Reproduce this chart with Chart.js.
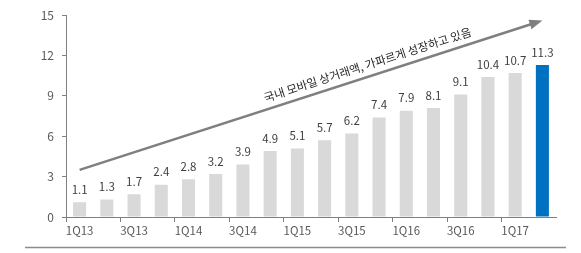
<!DOCTYPE html>
<html>
<head>
<meta charset="utf-8">
<script src="https://cdn.jsdelivr.net/npm/chart.js@4"></script>
<style>
  html, body { margin: 0; padding: 0; background: #fff; }
  #wrap { width: 581px; height: 253px; }
</style>
</head>
<body>
<div id="wrap"><canvas id="barChart"></canvas></div>
<script>
const quarters = ['1Q13','2Q13','3Q13','4Q13','1Q14','2Q14','3Q14','4Q14','1Q15','2Q15','3Q15','4Q15','1Q16','2Q16','3Q16','4Q16','1Q17','2Q17']
const values = [1.1, 1.3, 1.7, 2.4, 2.8, 3.2, 3.9, 4.9, 5.1, 5.7, 6.2, 7.4, 7.9, 8.1, 9.1, 10.4, 10.7, 11.3]
const yTicks = [0, 3, 6, 9, 12, 15]
// trend arrow, in data units: [category index, value]
const arrowFrom = [0, 3.5]
const arrowTo = [17, 14.6]
const arrowText = '국내 모바일 상거래액, 가파르게 성장하고 있음'

const grey = '#d9d9d9'
const blue = '#0070c0'
const font = "'Noto Sans CJK KR', 'Noto Sans', sans-serif"

// value labels + arrow + bottom rule
const extras = {
  id: 'extras',
  afterDatasetsDraw(chart) {
    const c = chart.ctx
    const meta = chart.getDatasetMeta(0)
    c.save()
    c.font = '11.5px ' + font
    c.fillStyle = '#404040'
    c.textAlign = 'center'
    c.textBaseline = 'bottom'
    meta.data.forEach((bar, i) => {
      c.fillText(values[i].toFixed(1), bar.x, bar.y - 7)
    })

    const x = chart.scales.x, y = chart.scales.y
    const x0 = x.getPixelForValue(arrowFrom[0]), y0 = y.getPixelForValue(arrowFrom[1])
    const x1 = x.getPixelForValue(arrowTo[0]), y1 = y.getPixelForValue(arrowTo[1])
    const ang = Math.atan2(y1 - y0, x1 - x0)
    const head = 13
    c.strokeStyle = '#7f7f7f'
    c.fillStyle = '#7f7f7f'
    c.lineWidth = 2.5
    c.beginPath()
    c.moveTo(x0, y0)
    c.lineTo(x1 - Math.cos(ang) * head * 0.8, y1 - Math.sin(ang) * head * 0.8)
    c.stroke()
    c.beginPath()
    c.moveTo(x1, y1)
    c.lineTo(x1 - head * Math.cos(ang) + 5 * Math.sin(ang), y1 - head * Math.sin(ang) - 5 * Math.cos(ang))
    c.lineTo(x1 - head * Math.cos(ang) - 5 * Math.sin(ang), y1 - head * Math.sin(ang) + 5 * Math.cos(ang))
    c.closePath()
    c.fill()

    // caption along the arrow
    const mx = x0 + (x1 - x0) * 0.63, my = y0 + (y1 - y0) * 0.63
    c.translate(mx, my)
    c.rotate(ang)
    c.font = '11.5px ' + font
    c.fillStyle = '#262626'
    c.textAlign = 'center'
    c.textBaseline = 'bottom'
    c.fillText(arrowText, 0, -6)
    c.restore()

    // rule under the chart
    c.save()
    c.strokeStyle = '#8c8c8c'
    c.lineWidth = 1.5
    c.beginPath()
    c.moveTo(25, 247.5)
    c.lineTo(566, 247.5)
    c.stroke()
    c.restore()
  }
}

const ctx = document.getElementById('barChart').getContext('2d')

const config = {
  type: 'bar',
  data: {
    labels: quarters,
    datasets: [{
      data: values,
      backgroundColor: values.map((v, i) => i === values.length - 1 ? blue : grey),
      barPercentage: 0.48,
      categoryPercentage: 1,
    }],
  },
  options: {
    responsive: true,
    maintainAspectRatio: false,
    animation: false,
    layout: { padding: { left: 0, right: 25, top: 12, bottom: 0 } },
    plugins: { legend: { display: false }, tooltip: { enabled: false } },
    scales: {
      x: {
        afterFit: s => { s.height = 36 },
        grid: {
          drawOnChartArea: false,
          tickLength: 5,
          color: c => c.index % 2 === 0 ? '#7f7f7f' : 'rgba(0,0,0,0)',
        },
        border: { color: '#7f7f7f', width: 1 },
        ticks: {
          autoSkip: false,
          maxRotation: 0,
          padding: 2,
          color: '#595959',
          font: { family: font, size: 11.5 },
          callback: (v, i) => i % 2 === 0 ? quarters[i] : '',
        },
      },
      y: {
        min: 0,
        max: 15,
        afterFit: s => { s.width = 66 },
        afterBuildTicks: s => { s.ticks = yTicks.map(v => ({ value: v })) },
        grid: { drawOnChartArea: false, tickLength: 4, color: '#7f7f7f' },
        border: { color: '#7f7f7f', width: 1 },
        ticks: {
          padding: 8,
          color: '#595959',
          font: { family: font, size: 12 },
        },
      },
    },
  },
  plugins: [extras],
}

const myChart = new Chart(ctx, config)
</script>
</body>
</html>
